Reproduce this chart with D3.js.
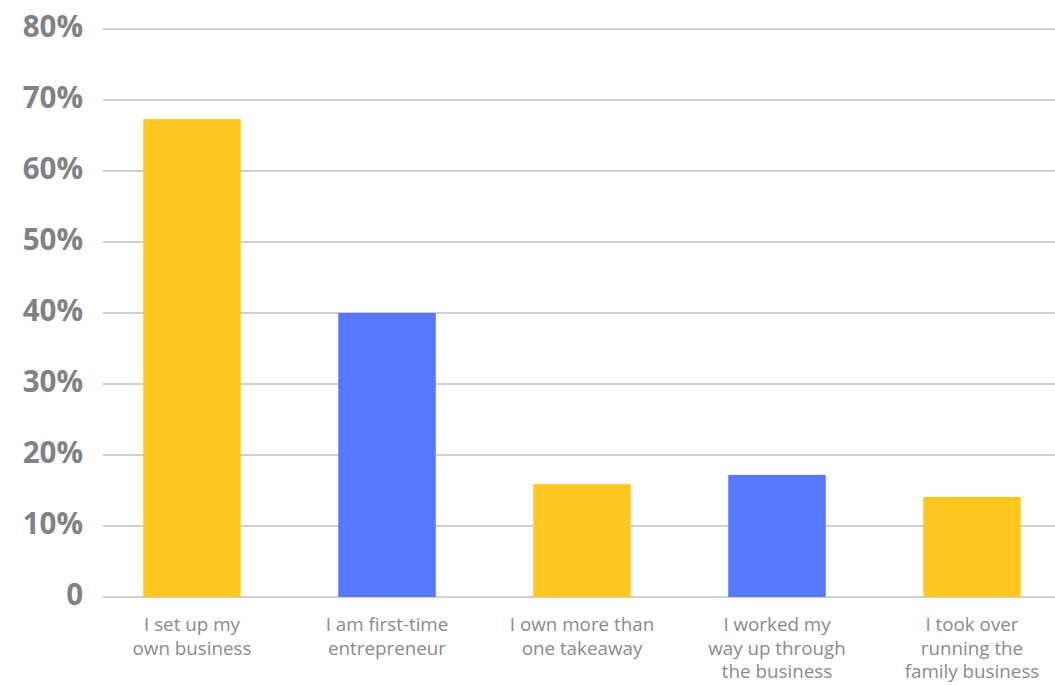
<!DOCTYPE html>
<html>
<head>
<meta charset="utf-8">
<script src="https://cdn.jsdelivr.net/npm/d3@7"></script>
<style>
  body { margin: 0; background: #fff; }
</style>
</head>
<body>
<div id="chart"></div>
<script>
// categories and values (percent)
let categories = [
  ["I set up my", "own business"],
  ["I am first-time", "entrepreneur"],
  ["I own more than", "one takeaway"],
  ["I worked my", "way up through", "the business"],
  ["I took over", "running the", "family business"]
];
let values = [67.3, 40.0, 15.9, 17.2, 14.1];
let barColors = ["#FFC720", "#5879FF", "#FFC720", "#5879FF", "#FFC720"];
let yTicks = [0, 10, 20, 30, 40, 50, 60, 70, 80];

let width = 1055, height = 685;

let svg = d3.select("#chart")
  .append("svg")
    .attr("width", width)
    .attr("height", height);

// scales
let x = d3.scaleBand()
  .domain(d3.range(categories.length))
  .range([94.5, 1069.5])
  .paddingInner(0.5)
  .paddingOuter(0.25);

let y = d3.scaleLinear()
  .domain([0, 80])
  .range([597, 29]);

// gridlines
svg.append("g")
  .selectAll("line")
  .data(yTicks)
  .join("line")
    .attr("x1", 103)
    .attr("x2", width)
    .attr("y1", d => y(d))
    .attr("y2", d => y(d))
    .attr("stroke", "#d0d0d0")
    .attr("stroke-width", 2);

// y labels
svg.append("g")
  .selectAll("text")
  .data(yTicks)
  .join("text")
    .attr("x", 83)
    .attr("y", d => y(d) - 2)
    .attr("dy", "0.35em")
    .attr("text-anchor", "end")
    .attr("font-family", "'Open Sans', sans-serif")
    .attr("font-weight", "bold")
    .attr("font-size", 29.5)
    .attr("fill", "#808285")
    .text(d => d === 0 ? "0" : d + "%");

// bars
svg.append("g")
  .selectAll("rect")
  .data(values)
  .join("rect")
    .attr("x", (d, i) => x(i))
    .attr("width", x.bandwidth())
    .attr("y", d => y(d))
    .attr("height", d => y(0) - y(d))
    .attr("fill", (d, i) => barColors[i]);

// x labels
let lbl = svg.append("g")
  .selectAll("text")
  .data(categories)
  .join("text")
    .attr("x", (d, i) => x(i) + x.bandwidth() / 2)
    .attr("y", 631)
    .attr("text-anchor", "middle")
    .attr("font-family", "'Open Sans', sans-serif")
    .attr("font-size", 18.8)
    .attr("fill", "#8a8a8a");

lbl.selectAll("tspan")
  .data(d => d)
  .join("tspan")
    .attr("x", function() { return this.parentNode.getAttribute("x"); })
    .attr("dy", (d, i) => i === 0 ? 0 : 23.5)
    .text(d => d);
</script>
</body>
</html>
